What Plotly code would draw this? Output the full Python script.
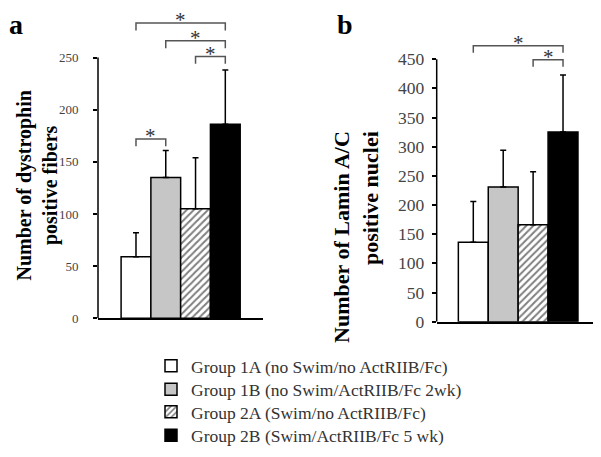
import plotly.graph_objects as go

# ---------------- data ----------------
groups = [
    "Group 1A (no Swim/no ActRIIB/Fc)",
    "Group 1B (no Swim/ActRIIB/Fc 2wk)",
    "Group 2A (Swim/no ActRIIB/Fc)",
    "Group 2B (Swim/ActRIIB/Fc 5 wk)",
]
x_pos = [0, 1, 2, 3]

dys_mean = [59, 135, 105, 186]
dys_sd = [23, 26, 49, 52]
lam_mean = [136, 231, 166, 325]
lam_sd = [70, 63, 91, 98]

dys_ticks = [0, 50, 100, 150, 200, 250]
lam_ticks = [0, 50, 100, 150, 200, 250, 300, 350, 400, 450]

# significance brackets: (from group, to group, height)
dys_brackets = [(0, 3, 283), (1, 3, 266), (2, 3, 251), (0, 1, 172)]
lam_brackets = [(0, 3, 473), (2, 3, 449)]

# ---------------- styles ----------------
fills = ["white", "#c6c6c6", "white", "black"]
patterns = ["", "", "/", ""]
SERIF = "Liberation Serif"
W, H = 601, 457
legend_rows_px = [366, 390, 413, 437]
legend_names = ["legend", "legend2", "legend3", "legend4"]

fig = go.Figure()


def add_bars(means, sds, xa, ya, show):
    for i, g in enumerate(groups):
        fig.add_trace(go.Bar(
            x=[x_pos[i]], y=[means[i]], name=g, legendgroup=g, showlegend=show,
            legend=legend_names[i],
            width=1.0, xaxis=xa, yaxis=ya,
            marker=dict(color=fills[i], line=dict(color="black", width=1.5),
                        pattern=dict(shape=patterns[i], fgcolor="black", bgcolor=fills[i],
                                     size=5, solidity=0.4)),
            error_y=dict(type="data", symmetric=False, array=[sds[i]], arrayminus=[0],
                         color="black", thickness=1.5, width=3),
        ))


add_bars(dys_mean, dys_sd, "x", "y", True)
add_bars(lam_mean, lam_sd, "x2", "y2", False)

shapes = []
annots = []


def brackets(blist, drop, xr, yr):
    for a, b, h in blist:
        shapes.append(dict(type="path", xref=xr, yref=yr,
                           path=f"M{x_pos[a]},{h - drop} L{x_pos[a]},{h} L{x_pos[b]},{h} L{x_pos[b]},{h - drop}",
                           line=dict(color="#555555", width=1.5)))
        annots.append(dict(x=(x_pos[a] + x_pos[b]) / 2, y=h, xref=xr, yref=yr, text="*",
                           showarrow=False, yanchor="middle", yshift=3,
                           font=dict(family=SERIF, size=21, color="#333333")))


brackets(dys_brackets, 7, "x", "y")
brackets(lam_brackets, 12, "x2", "y2")

# y axis lines only up to the last tick
shapes.append(dict(type="line", xref="x domain", yref="y", x0=0, x1=0, y0=0, y1=dys_ticks[-1],
                   line=dict(color="black", width=1.5)))
shapes.append(dict(type="line", xref="x2 domain", yref="y2", x0=0, x1=0, y0=0, y1=lam_ticks[-1],
                   line=dict(color="black", width=1.5)))

# axis titles and panel letters
annots.append(dict(text="Number of dystrophin<br>positive fibers", textangle=-90,
                   xref="paper", yref="paper", x=29.5 / W, y=1 - 182 / H,
                   xanchor="center", yanchor="middle", showarrow=False,
                   font=dict(family=SERIF, size=20, color="black", weight="bold")))
annots.append(dict(text="Number of Lamin A/C<br>positive nuclei", textangle=-90, align="right",
                   xref="paper", yref="paper", x=348 / W, y=1 - 234 / H,
                   xanchor="center", yanchor="middle", showarrow=False,
                   font=dict(family=SERIF, size=22, color="black", weight="bold")))
annots.append(dict(text="a", xref="paper", yref="paper", x=0, y=1,
                   xanchor="left", yanchor="top", showarrow=False, borderpad=0,
                   font=dict(family=SERIF, size=28, color="black", weight="bold")))
annots.append(dict(text="b", xref="paper", yref="paper", x=328 / W, y=1,
                   xanchor="left", yanchor="top", showarrow=False, borderpad=0,
                   font=dict(family=SERIF, size=28, color="black", weight="bold")))

xcommon = dict(showticklabels=False, ticks="", showgrid=False, zeroline=False,
               showline=True, linecolor="black", linewidth=1.5, fixedrange=True)
ycommon = dict(showgrid=False, zeroline=False, showline=False, ticks="outside",
               ticklen=4, tickwidth=1.5, tickcolor="black", fixedrange=True)

legend_style = dict(xanchor="left", yanchor="middle",
                    font=dict(family=SERIF, size=17.5, color="#333333"),
                    bgcolor="rgba(0,0,0,0)", borderwidth=0)
legend_layout = {name: dict(x=143 / W, y=1 - row / H, **legend_style)
                 for name, row in zip(legend_names, legend_rows_px)}

fig.update_layout(
    width=W, height=H, autosize=False,
    margin=dict(l=0, r=0, t=0, b=0),
    paper_bgcolor="white", plot_bgcolor="white",
    barmode="overlay",
    font=dict(family=SERIF, color="#333333"),
    xaxis=dict(domain=[90 / W, 255 / W], range=[-1.276, 4.266], anchor="y", **xcommon),
    yaxis=dict(domain=[1 - 317.3 / H, 1 - 8 / H], range=[0, 290], anchor="x",
               tickvals=dys_ticks, ticklabelstandoff=12,
               tickfont=dict(family=SERIF, size=13, color="#444444"), **ycommon),
    xaxis2=dict(domain=[428.7 / W, 593.3 / W], range=[-1.224, 4.28], anchor="y2", **xcommon),
    yaxis2=dict(domain=[1 - 320.7 / H, 1 - 10.6 / H], range=[0, 520], anchor="x2",
                tickvals=lam_ticks, ticklabelstandoff=4,
                tickfont=dict(family=SERIF, size=17.5, color="#444444"), **ycommon),
    shapes=shapes,
    annotations=annots,
    **legend_layout,
)

fig.write_html("out.html")
